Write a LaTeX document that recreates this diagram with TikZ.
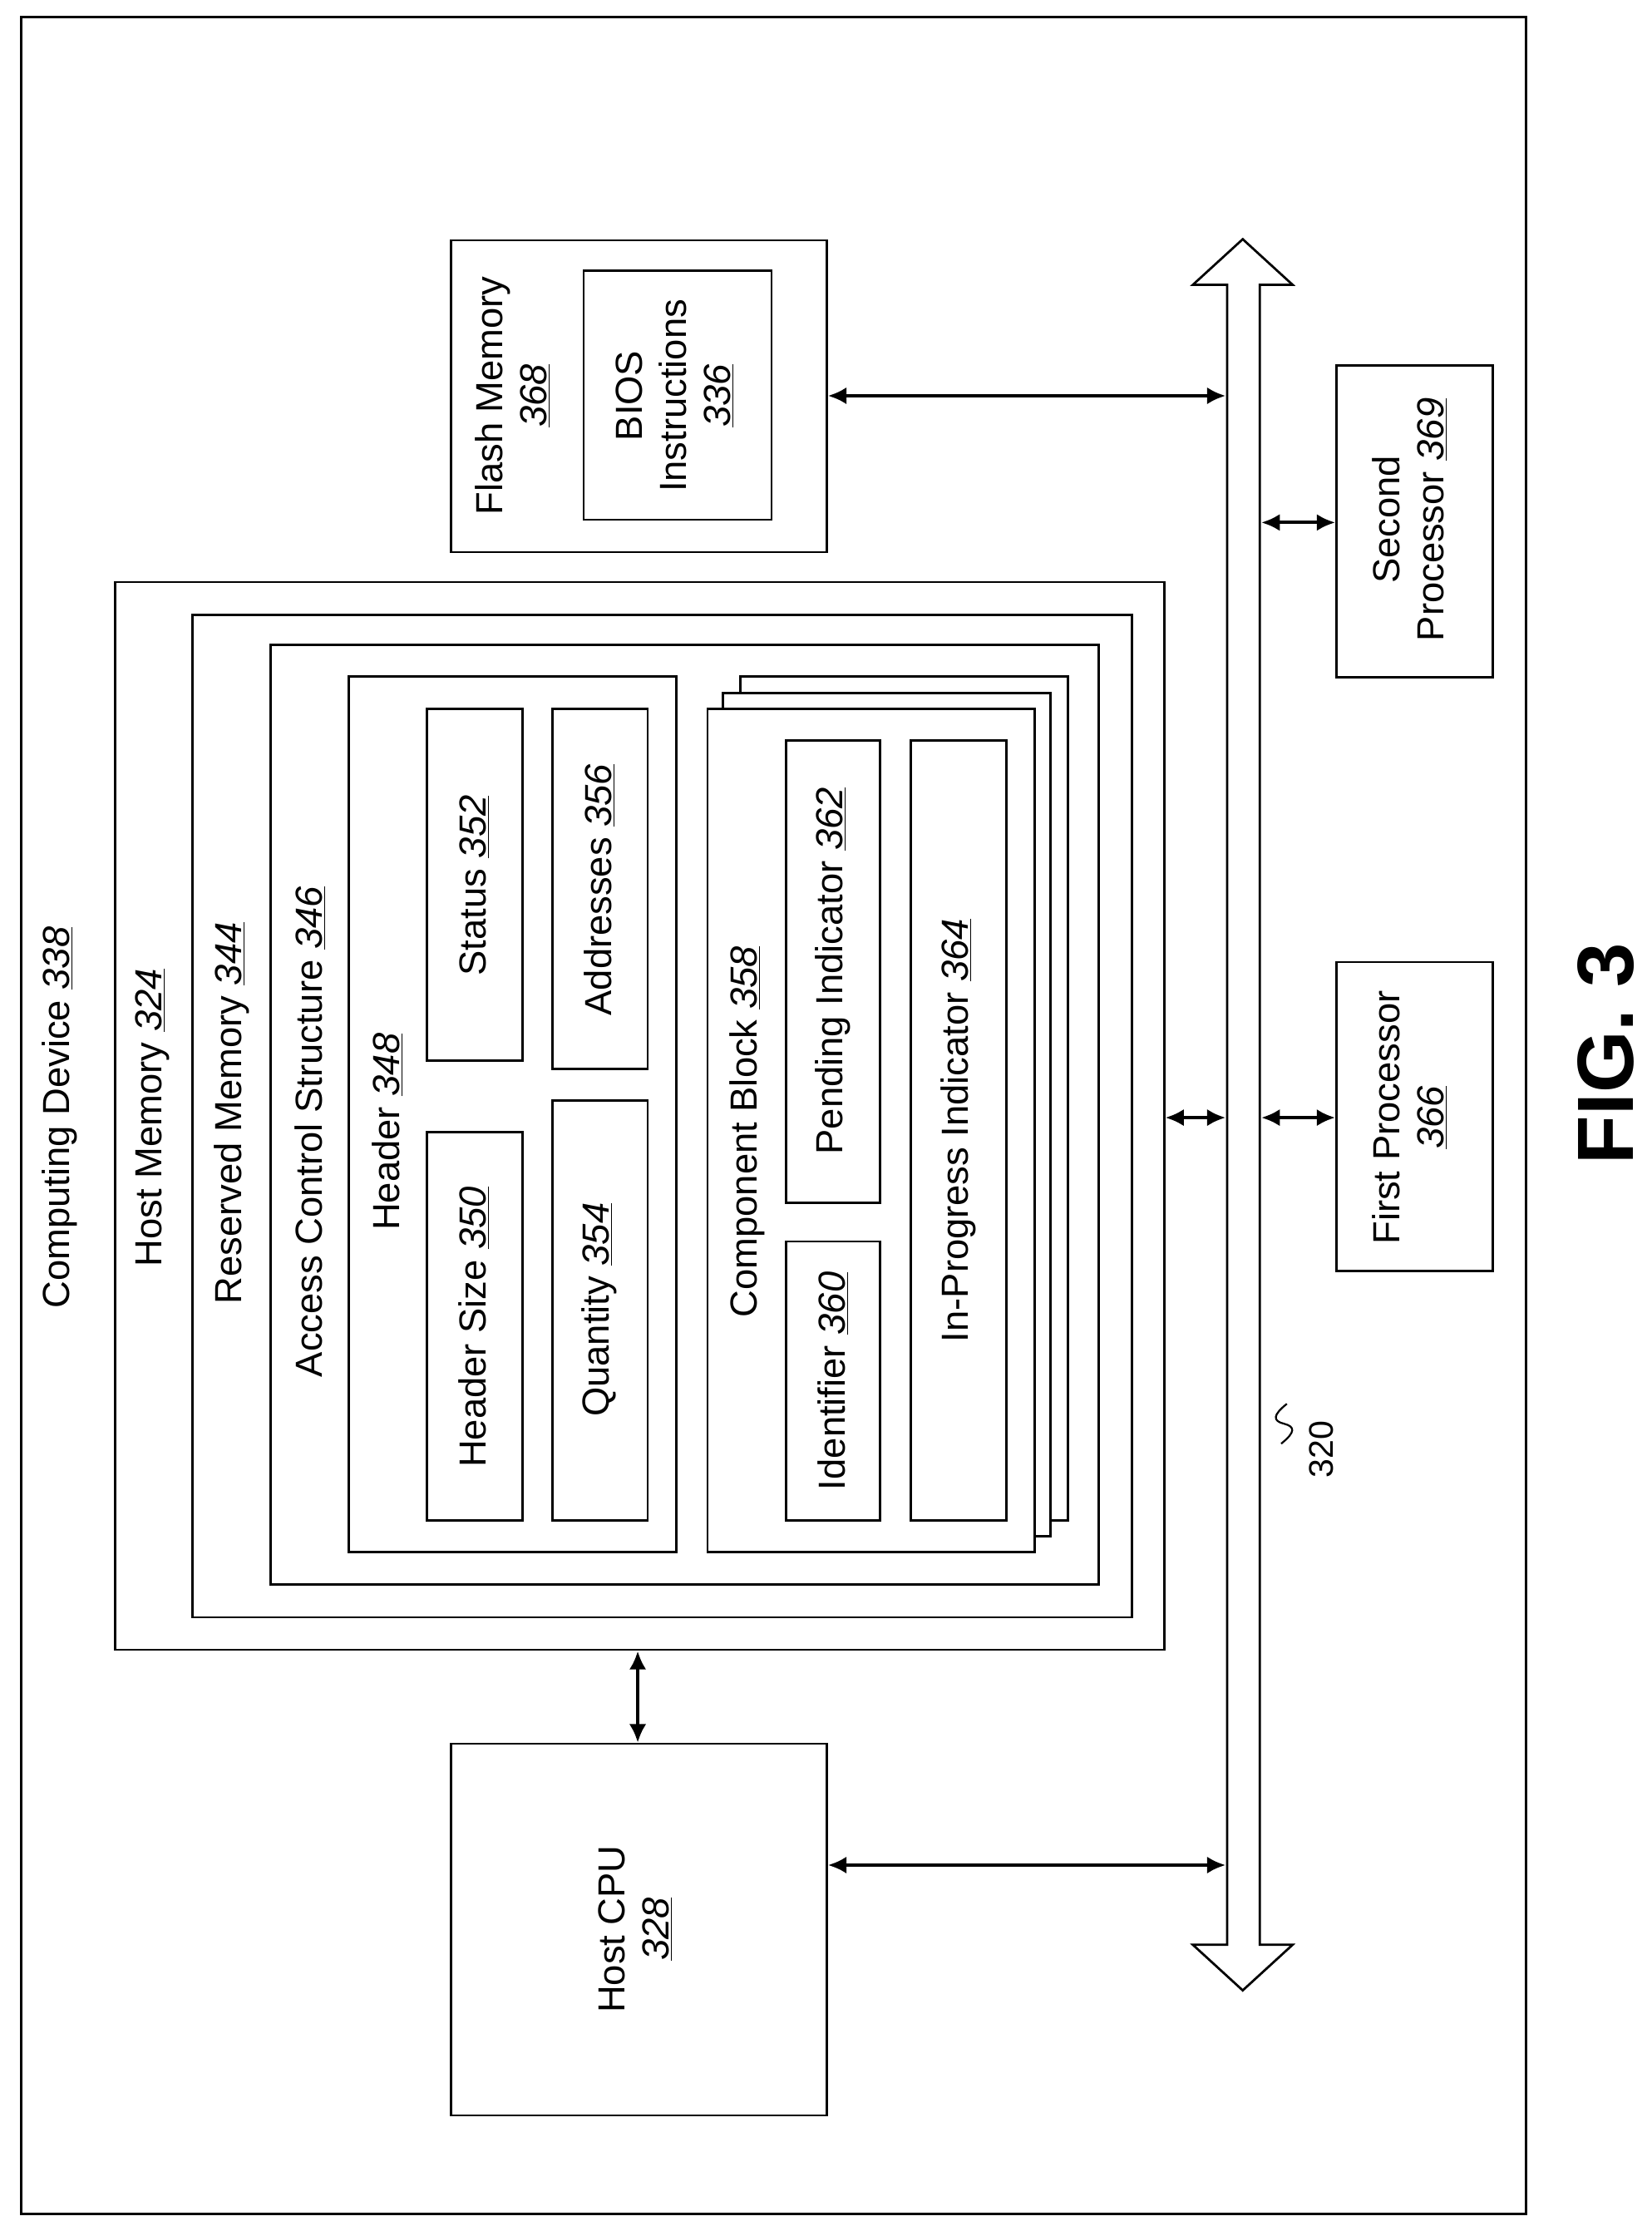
\documentclass[tikz,border=0pt]{standalone}
\usepackage{fontspec}
\setmainfont{Liberation Sans}
\usetikzlibrary{arrows.meta}
\newcommand{\refnum}[1]{\underline{\textit{#1}}}
\begin{document}
\begin{tikzpicture}[x=1pt,y=-1pt,line width=1.6pt,
  box/.style={draw,inner sep=0pt,anchor=north west},
  lbl/.style={rotate=90,font=\fontsize{26.5}{31}\selectfont,align=center},
  link/.style={{Latex[length=13pt,width=12pt]}-{Latex[length=13pt,width=12pt]},line width=2.4pt}]
\useasboundingbox (0,0) rectangle (1160,1560);
\draw (15,12) rectangle (1072,1555);

% nested memory boxes
\node[box,minimum width=737pt,minimum height=750pt] (device) at (80,408) {};
\draw (135,432) rectangle (795,1136);
\draw (190,453) rectangle (772,1113);
\node[lbl] at (42,785) {Computing Device \refnum{338}};
\node[lbl] at (107,785) {Host Memory \refnum{324}};
\node[lbl] at (163,782) {Reserved Memory \refnum{344}};
\node[lbl] at (218,795) {Access Control Structure \refnum{346}};

% header
\draw (245,475) rectangle (475,1090);
\node[lbl] at (272,795) {Header \refnum{348}};
\draw (300,795) rectangle (367,1068);
\node[lbl] at (333,932) {Header Size \refnum{350}};
\draw (300,498) rectangle (367,745);
\node[lbl] at (333,622) {Status \refnum{352}};
\draw (388,773) rectangle (455,1068);
\node[lbl] at (421,920) {Quantity \refnum{354}};
\draw (388,498) rectangle (455,751);
\node[lbl] at (421,625) {Addresses \refnum{356}};

% component blocks (stacked)
\filldraw[fill=white] (520,475) rectangle (750,1068);
\filldraw[fill=white] (508,487) rectangle (738,1079);
\filldraw[fill=white] (497,498) rectangle (727,1090);
\node[lbl] at (525,795) {Component Block \refnum{358}};
\draw (552,872) rectangle (618,1068);
\node[lbl] at (585,970) {Identifier \refnum{360}};
\draw (552,520) rectangle (618,845);
\node[lbl] at (585,682) {Pending Indicator \refnum{362}};
\draw (640,520) rectangle (707,1068);
\node[lbl] at (673,794) {In-Progress Indicator \refnum{364}};

% other components
\node[box,minimum width=264pt,minimum height=219pt] (flash) at (316,168) {};
\node[lbl] at (360,278) {Flash Memory\\\refnum{368}};
\draw (410,190) rectangle (542,365);
\node[lbl] at (474,278) {BIOS\\Instructions\\\refnum{336}};
\node[box,minimum width=264pt,minimum height=261pt] (cpu) at (316,1224) {};
\node[lbl] at (446,1355) {Host CPU\\\refnum{328}};
\node[box,minimum width=110pt,minimum height=219pt] (second) at (938,256) {};
\node[lbl] at (990,365) {Second\\Processor \refnum{369}};
\node[box,minimum width=110pt,minimum height=217pt] (first) at (938,675) {};
\node[lbl] at (990,785) {First Processor\\\refnum{366}};

% bus
\draw[line join=miter] (862,200) -- (838,200) -- (873,168) -- (908,200) -- (885,200)
  -- (885,1366) -- (908,1366) -- (873,1398) -- (838,1366) -- (862,1366) -- cycle;
\coordinate (busL1) at (861,278);
\coordinate (busL2) at (861,785);
\coordinate (busL3) at (861,1310);
\coordinate (busR1) at (886,367);
\coordinate (busR2) at (886,785);
\draw[link] (flash.east |- busL1) -- (busL1);
\draw[link] (device.east |- busL2) -- (busL2);
\draw[link] (cpu.east |- busL3) -- (busL3);
\draw[link] (busR1) -- (second.west |- busR1);
\draw[link] (busR2) -- (first.west |- busR2);
\draw[link] (device.south -| 448,0) -- (cpu.north -| 448,0);

\draw[line width=1.3pt] (904,986) .. controls (894,994) and (894,998) .. (902,1000)
  .. controls (910,1002) and (910,1006) .. (900,1014);
\node[rotate=90,font=\fontsize{24}{28}\selectfont] (busnum) at (928,1018) {320};

\node[rotate=90,font=\fontsize{56}{64}\selectfont\bfseries] (fig) at (1128,740) {FIG. 3};
\end{tikzpicture}
\end{document}
